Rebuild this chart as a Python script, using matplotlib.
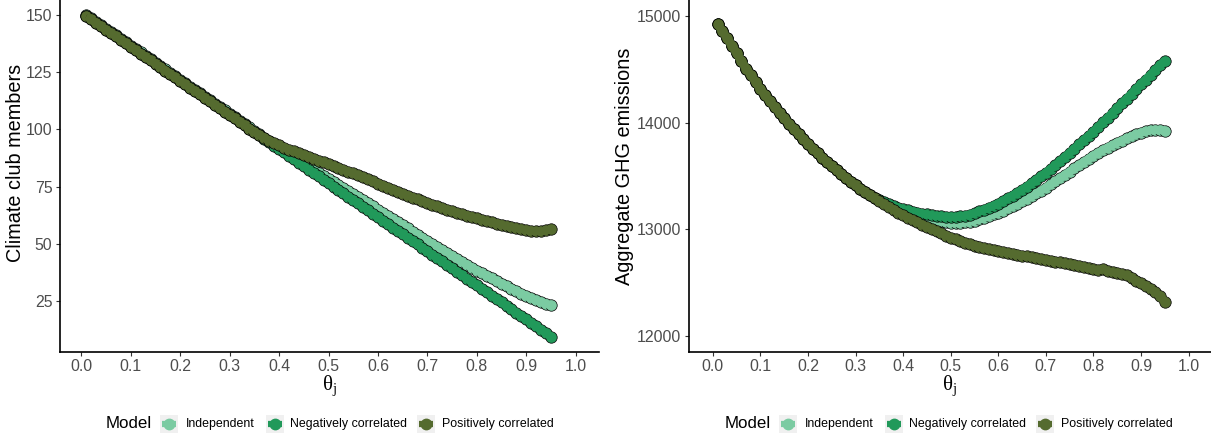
import matplotlib
matplotlib.use("Agg")
import matplotlib.pyplot as plt
from matplotlib.lines import Line2D
from matplotlib.patches import Rectangle

plt.rcParams['font.family'] = ['Liberation Sans', 'DejaVu Sans']
plt.rcParams['mathtext.fontset'] = 'custom'
plt.rcParams['mathtext.rm'] = 'Liberation Serif'
plt.rcParams['mathtext.it'] = 'Liberation Serif:italic'

# ---------------- data ----------------
THETA = [0.01, 0.02, 0.03, 0.04, 0.05, 0.06, 0.07, 0.08, 0.09, 0.10,
         0.11, 0.12, 0.13, 0.14, 0.15, 0.16, 0.17, 0.18, 0.19, 0.20,
         0.21, 0.22, 0.23, 0.24, 0.25, 0.26, 0.27, 0.28, 0.29, 0.30,
         0.31, 0.32, 0.33, 0.34, 0.35, 0.36, 0.37, 0.38, 0.39, 0.40,
         0.41, 0.42, 0.43, 0.44, 0.45, 0.46, 0.47, 0.48, 0.49, 0.50,
         0.51, 0.52, 0.53, 0.54, 0.55, 0.56, 0.57, 0.58, 0.59, 0.60,
         0.61, 0.62, 0.63, 0.64, 0.65, 0.66, 0.67, 0.68, 0.69, 0.70,
         0.71, 0.72, 0.73, 0.74, 0.75, 0.76, 0.77, 0.78, 0.79, 0.80,
         0.81, 0.82, 0.83, 0.84, 0.85, 0.86, 0.87, 0.88, 0.89, 0.90,
         0.91, 0.92, 0.93, 0.94, 0.95]

MODELS = ["Independent", "Negatively correlated", "Positively correlated"]
COLORS = ["#7BCBA2", "#21995A", "#556B2F"]

CLUB_IND = [149.9, 148.4, 146.9, 145.4, 143.9, 142.5, 141.0, 139.5, 138.0, 136.5,
            135.0, 133.5, 132.0, 130.6, 129.1, 127.6, 126.1, 124.6, 123.1, 121.6,
            120.1, 118.6, 117.2, 115.7, 114.2, 112.7, 111.2, 109.7, 108.2, 106.7,
            105.3, 103.8, 102.3, 100.8, 99.3, 97.8, 96.3, 94.8, 93.3, 91.9,
            90.4, 89.0, 87.5, 86.1, 84.7, 83.4, 82.1, 80.9, 79.6, 78.3,
            77.0, 75.7, 74.3, 73.0, 71.6, 70.4, 69.0, 67.7, 66.3, 64.9,
            63.5, 62.1, 60.8, 59.4, 58.1, 56.7, 55.3, 53.9, 52.6, 51.2,
            49.9, 48.5, 47.3, 46.0, 44.7, 43.4, 42.1, 40.8, 39.6, 38.3,
            37.2, 36.0, 34.9, 33.7, 32.6, 31.5, 30.4, 29.3, 28.2, 27.2,
            26.2, 25.3, 24.5, 23.8, 23.2]

CLUB_NEG = [149.4, 147.9, 146.4, 144.9, 143.4, 142.0, 140.5, 139.0, 137.5, 136.0,
            134.5, 133.0, 131.5, 130.1, 128.6, 127.1, 125.6, 124.1, 122.6, 121.1,
            119.6, 118.1, 116.7, 115.2, 113.7, 112.2, 110.7, 109.2, 107.7, 106.2,
            104.8, 103.3, 101.8, 100.3, 98.8, 97.3, 95.8, 94.3, 92.8, 91.4,
            89.9, 88.4, 86.9, 85.4, 83.9, 82.4, 80.9, 79.5, 78.0, 76.5,
            75.0, 73.5, 72.0, 70.5, 69.0, 67.6, 66.1, 64.6, 63.1, 61.6,
            60.1, 58.6, 57.1, 55.6, 54.2, 52.7, 51.2, 49.7, 48.2, 46.7,
            45.2, 43.7, 42.3, 40.8, 39.3, 37.8, 36.3, 34.8, 33.3, 31.8,
            30.4, 28.9, 27.4, 25.9, 24.4, 22.9, 21.4, 19.9, 18.4, 17.0,
            15.5, 14.0, 12.5, 11.0, 9.5]

CLUB_POS = [149.4, 147.9, 146.4, 144.9, 143.4, 142.0, 140.5, 139.0, 137.5, 136.0,
            134.5, 133.0, 131.5, 130.1, 128.6, 127.1, 125.6, 124.1, 122.6, 121.1,
            119.6, 118.1, 116.7, 115.2, 113.7, 112.2, 110.7, 109.2, 107.7, 106.2,
            104.8, 103.3, 101.8, 100.3, 98.8, 97.5, 96.2, 95.0, 93.9, 92.9,
            92.0, 91.1, 90.3, 89.5, 88.7, 87.9, 87.1, 86.3, 85.5, 84.7,
            83.9, 83.1, 82.3, 81.5, 80.7, 79.9, 79.0, 78.1, 77.2, 76.3,
            75.4, 74.5, 73.6, 72.7, 71.8, 71.0, 70.2, 69.4, 68.6, 67.8,
            67.0, 66.3, 65.6, 64.9, 64.2, 63.5, 62.9, 62.3, 61.7, 61.1,
            60.5, 59.9, 59.3, 58.8, 58.3, 57.8, 57.3, 56.8, 56.4, 56.0,
            55.7, 55.5, 55.5, 55.8, 56.5]

GHG_IND = [14925, 14857, 14789, 14723, 14649, 14577, 14505, 14446, 14380, 14312,
           14256, 14200, 14146, 14093, 14040, 13990, 13941, 13893, 13846, 13800,
           13756, 13713, 13670, 13630, 13590, 13553, 13516, 13480, 13445, 13410,
           13379, 13348, 13320, 13294, 13270, 13248, 13227, 13208, 13190, 13173,
           13157, 13141, 13126, 13112, 13100, 13089, 13079, 13071, 13065, 13060,
           13058, 13059, 13063, 13070, 13080, 13092, 13106, 13121, 13138, 13155,
           13174, 13194, 13215, 13237, 13260, 13284, 13309, 13335, 13362, 13390,
           13419, 13448, 13478, 13509, 13540, 13570, 13600, 13630, 13660, 13690,
           13716, 13741, 13765, 13788, 13810, 13831, 13851, 13870, 13888, 13905,
           13919, 13928, 13932, 13930, 13925]

GHG_NEG = [14925, 14857, 14789, 14723, 14649, 14577, 14505, 14446, 14380, 14312,
           14256, 14200, 14146, 14093, 14040, 13990, 13941, 13893, 13846, 13800,
           13756, 13713, 13670, 13630, 13590, 13553, 13516, 13480, 13445, 13410,
           13379, 13348, 13322, 13296, 13273, 13252, 13233, 13216, 13201, 13188,
           13176, 13165, 13155, 13146, 13138, 13131, 13125, 13120, 13117, 13115,
           13116, 13120, 13127, 13137, 13150, 13166, 13183, 13201, 13220, 13240,
           13264, 13289, 13315, 13342, 13370, 13400, 13431, 13463, 13496, 13530,
           13565, 13600, 13637, 13675, 13715, 13755, 13795, 13835, 13875, 13915,
           13958, 14001, 14045, 14090, 14135, 14180, 14225, 14270, 14315, 14360,
           14404, 14448, 14492, 14536, 14580]

GHG_POS = [14925, 14857, 14789, 14723, 14649, 14577, 14505, 14446, 14380, 14312,
           14256, 14200, 14146, 14093, 14040, 13990, 13941, 13893, 13846, 13800,
           13756, 13713, 13670, 13630, 13590, 13553, 13516, 13480, 13445, 13410,
           13379, 13348, 13318, 13289, 13260, 13234, 13208, 13182, 13156, 13130,
           13108, 13086, 13064, 13042, 13020, 13000, 12980, 12960, 12940, 12920,
           12903, 12887, 12872, 12858, 12845, 12833, 12822, 12812, 12803, 12795,
           12786, 12776, 12768, 12760, 12752, 12745, 12737, 12728, 12720, 12711,
           12703, 12696, 12688, 12680, 12672, 12664, 12655, 12645, 12632, 12622,
           12618, 12626, 12605, 12596, 12590, 12580, 12565, 12545, 12515, 12490,
           12465, 12440, 12410, 12370, 12320]

X_TICKS = [0.0, 0.1, 0.2, 0.3, 0.4, 0.5, 0.6, 0.7, 0.8, 0.9, 1.0]
CLUB_TICKS = [25, 50, 75, 100, 125, 150]
GHG_TICKS = [12000, 13000, 14000, 15000]

# ---------------- layout ----------------
W, H = 1211, 438
fig = plt.figure(figsize=(W / 100, H / 100), dpi=100)
fig.patch.set_facecolor("white")

ax1 = fig.add_axes([60 / W, 1 - 351.7 / H, (599 - 60) / W, 351.7 / H])
ax2 = fig.add_axes([688.5 / W, 1 - 351.7 / H, (1211 - 688.5) / W, 351.7 / H])

TICK_GREY = "#4D4D4D"
POINT_S = 68        # marker area (pt^2)
LINE_W = 6.2        # thick line drawn over the points (pt)


def fx(px):
    return px / W


def fy(py):
    return 1 - py / H


def style_axis(ax):
    for s in ["top", "right"]:
        ax.spines[s].set_visible(False)
    for s in ["left", "bottom"]:
        ax.spines[s].set_linewidth(1.2)
        ax.spines[s].set_color("black")
    ax.tick_params(axis="both", length=3, width=0.8, color="#333333",
                   labelcolor=TICK_GREY, labelsize=11.4, pad=2.5)
    ax.set_facecolor("white")


def draw_series(ax, ys):
    z = 2
    for y, c in zip(ys, COLORS):
        ax.scatter(THETA, y, s=POINT_S, facecolor=c, edgecolor="black",
                   linewidths=0.5, zorder=z, clip_on=False)
        ax.plot(THETA, y, color=c, lw=LINE_W, zorder=z + 0.5,
                solid_capstyle="butt", solid_joinstyle="round")
        z += 1


draw_series(ax1, [CLUB_IND, CLUB_NEG, CLUB_POS])
draw_series(ax2, [GHG_IND, GHG_NEG, GHG_POS])

ax1.set_xlim(-0.0433, 1.0471)
ax1.set_ylim(2.9, 156.4)
ax1.set_xticks(X_TICKS)
ax1.set_xticklabels([f"{t:.1f}" for t in X_TICKS])
ax1.set_yticks(CLUB_TICKS)
style_axis(ax1)

ax2.set_xlim(-0.0513, 1.047)
ax2.set_ylim(11850, 15150)
ax2.set_xticks(X_TICKS)
ax2.set_xticklabels([f"{t:.1f}" for t in X_TICKS])
ax2.set_yticks(GHG_TICKS)
style_axis(ax2)

# axis titles
fig.text(fx(16), fy(163), "Climate club members", fontsize=14.3,
         rotation=90, ha="center", va="center")
fig.text(fx(625), fy(166), "Aggregate GHG emissions", fontsize=14.3,
         rotation=90, ha="center", va="center")
for xc in (329.5, 949.7):
    fig.text(fx(xc), fy(386), r"$\mathrm{\theta}_\mathrm{j}$", fontsize=15,
             ha="center", va="center")


# ---------------- legends ----------------
def draw_legend(offset):
    yc = 424
    fig.text(fx(106 + offset), fy(yc), "Model", fontsize=12.2, color="black",
             ha="left", va="center")
    keys = [159.5, 265.8, 417.0]
    labels_x = [186, 290, 442]
    for kx, lx, name, c in zip(keys, labels_x, MODELS, COLORS):
        x0 = kx + offset
        fig.add_artist(Rectangle((fx(x0), fy(yc + 9)), 18 / W, 18 / H,
                                 transform=fig.transFigure,
                                 facecolor="#F0F0F0", edgecolor="none"))
        fig.add_artist(Line2D([fx(x0 + 9)], [fy(yc)], transform=fig.transFigure,
                              marker="o", markersize=7.5, color=c,
                              markeredgecolor=c, linestyle="none"))
        fig.add_artist(Line2D([fx(x0 + 2), fx(x0 + 16)], [fy(yc), fy(yc)],
                              transform=fig.transFigure, color=c, lw=4.5,
                              solid_capstyle="butt"))
        fig.text(fx(lx + offset), fy(yc), name, fontsize=8.9, color="black",
                 ha="left", va="center")


draw_legend(0)
draw_legend(619)

fig.savefig("out.png", dpi=100, facecolor="white")
